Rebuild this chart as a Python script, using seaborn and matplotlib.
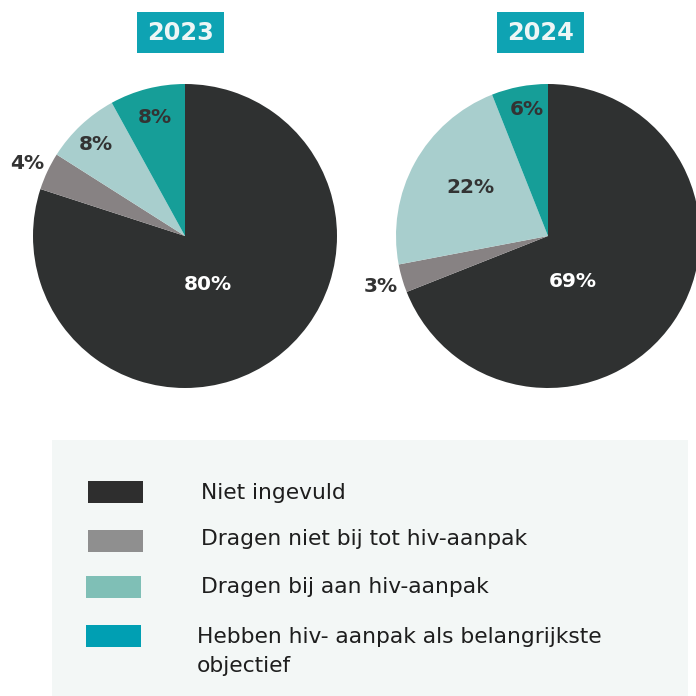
import matplotlib
matplotlib.use("Agg")
import matplotlib.pyplot as plt
import seaborn as sns
from matplotlib.patches import Rectangle

sns.set_theme(style="white")
plt.rcParams["font.family"] = ["DejaVu Sans"]

# data
years = ["2023", "2024"]
categories = [
    "Niet ingevuld",
    "Dragen niet bij tot hiv-aanpak",
    "Dragen bij aan hiv-aanpak",
    "Hebben hiv- aanpak als belangrijkste",
]
category_extra_line = "objectief"
values_2023 = [80, 4, 8, 8]
values_2024 = [69, 3, 22, 6]

pie_colors = ["#2f3131", "#878283", "#a8cecd", "#169e98"]
legend_colors = ["#2e2e2e", "#8f8f8f", "#7fbfb6", "#009fb3"]
label_colors = ["white", "#333333", "#333333", "#333333"]

# label positions in units of radius, per slice
label_pos = {
    "2023": [(0.15, -0.32), (-1.04, 0.48), (-0.59, 0.60), (-0.20, 0.78)],
    "2024": [(0.16, -0.30), (-1.10, -0.33), (-0.51, 0.32), (-0.14, 0.83)],
}

W = H = 696
fig = plt.figure(figsize=(6.96, 6.96), dpi=100)

def px_axes(x0, y0, x1, y1):
    return fig.add_axes([x0 / W, 1 - y1 / H, (x1 - x0) / W, (y1 - y0) / H])

pies = [("2023", values_2023, 185, 137), ("2024", values_2024, 548, 497)]
for year, vals, cx, bx in pies:
    ax = px_axes(cx - 152, 84, cx + 152, 388)
    ax.pie(vals, colors=pie_colors, startangle=90, counterclock=False,
           radius=1, wedgeprops=dict(linewidth=0))
    ax.set_xlim(-1, 1)
    ax.set_ylim(-1, 1)
    ax.set_aspect("equal")
    ax.axis("off")
    for v, (lx, ly), c in zip(vals, label_pos[year], label_colors):
        ax.text(lx, ly, f"{v}%", ha="center", va="center", fontsize=14.5,
                fontweight="bold", color=c, clip_on=False)
    # year title box
    fig.patches.append(Rectangle((bx / W, 1 - 53 / H), 87 / W, 41 / H,
                                 transform=fig.transFigure, fc="#0ea3b3",
                                 ec="none"))
    fig.text((bx + 43.5) / W, 1 - 32.5 / H, year, ha="center", va="center",
             fontsize=17.3, fontweight="bold", color="#eef6f6")

# legend panel
lax = px_axes(52, 440, 688, 696)
lax.set_facecolor("#f3f7f6")
lax.set_xlim(52, 688)
lax.set_ylim(696, 440)
lax.set_xticks([])
lax.set_yticks([])
for s in lax.spines.values():
    s.set_visible(False)

swatch_y = [492, 541, 587, 636]
swatch_x = [88, 88, 86, 86]
text_x = [201, 201, 201, 197]
baseline_y = [499, 545, 593, 643]
for cat, col, sx, sy, tx, ty in zip(categories, legend_colors, swatch_x,
                                    swatch_y, text_x, baseline_y):
    lax.add_patch(Rectangle((sx, sy - 11), 55, 22, fc=col, ec="none"))
    lax.text(tx, ty, cat, ha="left", va="baseline", fontsize=15.7,
             color="#1e1e1e")
lax.text(text_x[-1], baseline_y[-1] + 29.5, category_extra_line, ha="left",
         va="baseline", fontsize=15.7, color="#1e1e1e")

fig.savefig("out.png", dpi=100)
